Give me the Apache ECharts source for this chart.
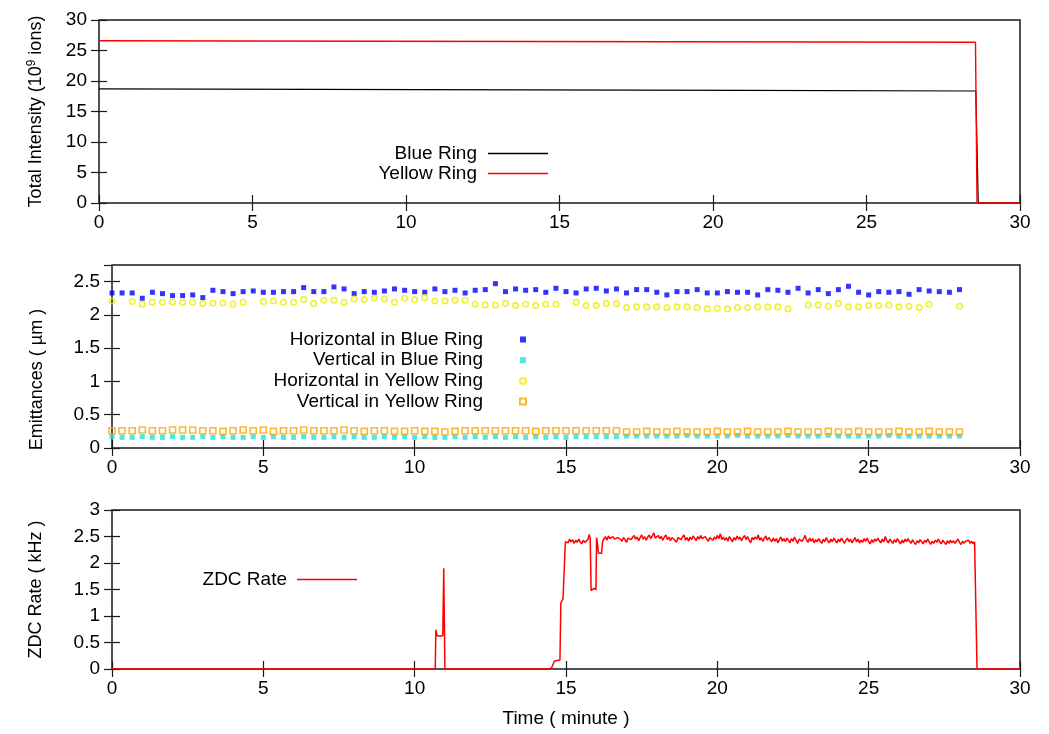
<!DOCTYPE html>
<html>
<head>
<meta charset="utf-8">
<script src="https://cdn.jsdelivr.net/npm/echarts@6/dist/echarts.min.js"></script>
<style>
  html, body { margin: 0; padding: 0; background: #fff; }
  #chart { width: 1049px; height: 734px; }
</style>
</head>
<body>
<div id="chart"></div>
<script>
// top panel: total intensity (10^9 ions)
const intensityTime = [0, 7, 14, 21, 28.56, 28.64, 30];
const blueIntensity = [18.7, 18.62, 18.53, 18.45, 18.36, 0, 0];
const yellowTime = [0, 14, 28.55, 28.6, 30];
const yellowIntensity = [26.6, 26.48, 26.35, 0, 0];

// middle panel: emittances, one reading every 20 s from 0 to 28 min
const emitStep = 1 / 3;
const blueH = [2.33, 2.33, 2.33, 2.25, 2.34, 2.32, 2.29, 2.29, 2.30, 2.26,
  2.37, 2.35, 2.32, 2.35, 2.36, 2.34, 2.34, 2.35, 2.35, 2.41,
  2.35, 2.35, 2.42, 2.39, 2.32, 2.35, 2.34, 2.36, 2.39, 2.37,
  2.35, 2.34, 2.39, 2.35, 2.37, 2.33, 2.37, 2.38, 2.47, 2.35,
  2.39, 2.37, 2.38, 2.34, 2.40, 2.35, 2.33, 2.39, 2.40, 2.36,
  2.39, 2.33, 2.38, 2.38, 2.34, 2.30, 2.35, 2.35, 2.38, 2.33,
  2.33, 2.35, 2.34, 2.34, 2.30, 2.38, 2.37, 2.34, 2.40, 2.33,
  2.38, 2.32, 2.38, 2.43, 2.34, 2.30, 2.35, 2.34, 2.35, 2.31,
  2.38, 2.36, 2.35, 2.34, 2.38];
const blueV = [0.17, 0.16, 0.16, 0.17, 0.16, 0.16, 0.17, 0.16, 0.16, 0.17,
  0.16, 0.17, 0.16, 0.16, 0.17, 0.16, 0.17, 0.16, 0.16, 0.17,
  0.16, 0.16, 0.17, 0.16, 0.17, 0.16, 0.16, 0.17, 0.16, 0.17,
  0.16, 0.17, 0.16, 0.16, 0.17, 0.16, 0.17, 0.16, 0.17, 0.16,
  0.17, 0.16, 0.17, 0.16, 0.17, 0.16, 0.17, 0.17, 0.17, 0.17,
  0.17, 0.18, 0.18, 0.18, 0.18, 0.18, 0.18, 0.19, 0.18, 0.18,
  0.18, 0.18, 0.19, 0.18, 0.18, 0.18, 0.18, 0.19, 0.18, 0.18,
  0.18, 0.19, 0.18, 0.18, 0.18, 0.18, 0.18, 0.19, 0.18, 0.18,
  0.18, 0.18, 0.18, 0.18, 0.18];
const yellowH = [2.21, null, 2.20, 2.16, 2.19, 2.19, 2.19, 2.19, 2.19, 2.17,
  2.18, 2.18, 2.16, 2.19, null, 2.20, 2.21, 2.19, 2.19, 2.23,
  2.17, 2.22, 2.22, 2.19, 2.24, 2.23, 2.25, 2.24, 2.19, 2.25,
  2.23, 2.26, 2.21, 2.21, 2.22, 2.22, 2.16, 2.15, 2.15, 2.17,
  2.14, 2.16, 2.14, 2.16, 2.16, null, 2.19, 2.14, 2.14, 2.17,
  2.17, 2.11, 2.12, 2.12, 2.12, 2.11, 2.12, 2.12, 2.11, 2.09,
  2.10, 2.09, 2.11, 2.11, 2.12, 2.12, 2.12, 2.09, null, 2.15,
  2.15, 2.13, 2.17, 2.12, 2.12, 2.14, 2.14, 2.15, 2.12, 2.13,
  2.11, 2.16, null, null, 2.13];
const yellowV = [0.26, 0.26, 0.26, 0.27, 0.26, 0.26, 0.27, 0.27, 0.27, 0.26,
  0.26, 0.25, 0.26, 0.27, 0.26, 0.27, 0.25, 0.26, 0.26, 0.27,
  0.26, 0.26, 0.26, 0.27, 0.26, 0.25, 0.26, 0.26, 0.25, 0.25,
  0.26, 0.25, 0.25, 0.24, 0.25, 0.26, 0.26, 0.26, 0.26, 0.26,
  0.26, 0.26, 0.25, 0.26, 0.26, 0.26, 0.26, 0.26, 0.26, 0.26,
  0.26, 0.24, 0.24, 0.25, 0.24, 0.24, 0.25, 0.24, 0.24, 0.24,
  0.25, 0.24, 0.24, 0.25, 0.24, 0.24, 0.24, 0.25, 0.24, 0.24,
  0.24, 0.25, 0.24, 0.24, 0.25, 0.24, 0.24, 0.24, 0.25, 0.24,
  0.24, 0.25, 0.24, 0.24, 0.24];

// bottom panel: ZDC rate (kHz)
const zdcEventTime = [0, 10.68, 10.70, 10.74, 10.78, 10.83, 10.88, 10.93, 10.95, 10.96,
  11.00, 14.45, 14.52, 14.58, 14.62, 14.80, 14.83, 14.90, 14.95, 14.98,
  15.02, 15.07, 15.12, 15.17, 15.22, 15.27, 15.32, 15.37, 15.42, 15.47,
  15.52, 15.57, 15.62, 15.67, 15.72, 15.77, 15.80, 15.83, 15.88, 15.92,
  15.96, 15.99, 16.01, 16.04, 16.07, 16.12, 16.17, 16.21];
const zdcEventRate = [0, 0, 0.74, 0.63, 0.60, 0.62, 0.64, 0.63, 0.64, 1.90,
  0, 0, 0.02, 0.05, 0.15, 0.17, 1.25, 1.32, 1.32, 2.40,
  2.42, 2.38, 2.45, 2.40, 2.44, 2.37, 2.43, 2.39, 2.45, 2.40,
  2.36, 2.43, 2.39, 2.36, 2.44, 2.54, 2.45, 1.48, 1.45, 1.52,
  1.55, 1.50, 2.48, 2.36, 2.19, 2.21, 2.18, 2.40];
// steady beam part, sampled every 0.05 min from 16.25 min
const zdcSampleStart = 16.25;
const zdcSampleStep = 0.05;
const zdcSamples = [
  2.45, 2.50, 2.43, 2.51, 2.46, 2.44, 2.50, 2.45, 2.42, 2.48,
  2.51, 2.45, 2.41, 2.48, 2.44, 2.39, 2.47, 2.50, 2.44, 2.48,
  2.52, 2.45, 2.49, 2.42, 2.48, 2.53, 2.45, 2.50, 2.43, 2.49,
  2.53, 2.46, 2.51, 2.57, 2.47, 2.44, 2.52, 2.46, 2.50, 2.43,
  2.49, 2.53, 2.44, 2.49, 2.42, 2.48, 2.51, 2.43, 2.39, 2.48,
  2.51, 2.44, 2.49, 2.53, 2.43, 2.48, 2.41, 2.49, 2.44, 2.51,
  2.47, 2.42, 2.50, 2.45, 2.52, 2.46, 2.43, 2.50, 2.45, 2.41,
  2.48, 2.51, 2.43, 2.49, 2.45, 2.52, 2.46, 2.55, 2.44, 2.49,
  2.43, 2.48, 2.41, 2.50, 2.45, 2.40, 2.48, 2.43, 2.51, 2.45,
  2.49, 2.42, 2.48, 2.52, 2.44, 2.50, 2.43, 2.38, 2.48, 2.44,
  2.49, 2.45, 2.53, 2.43, 2.48, 2.41, 2.46, 2.51, 2.43, 2.48,
  2.44, 2.40, 2.47, 2.41, 2.46, 2.38, 2.44, 2.49, 2.41, 2.46,
  2.40, 2.47, 2.43, 2.38, 2.46, 2.41, 2.49, 2.43, 2.37, 2.45,
  2.47, 2.41, 2.46, 2.52, 2.43, 2.39, 2.47, 2.41, 2.46, 2.38,
  2.44, 2.40, 2.46, 2.41, 2.37, 2.45, 2.40, 2.48, 2.42, 2.38,
  2.45, 2.40, 2.47, 2.42, 2.38, 2.45, 2.40, 2.47, 2.42, 2.37,
  2.43, 2.47, 2.40, 2.45, 2.38, 2.43, 2.48, 2.40, 2.45, 2.38,
  2.43, 2.39, 2.46, 2.41, 2.47, 2.40, 2.36, 2.44, 2.39, 2.45,
  2.41, 2.47, 2.42, 2.38, 2.45, 2.40, 2.50, 2.42, 2.38, 2.45,
  2.41, 2.37, 2.44, 2.39, 2.46, 2.41, 2.36, 2.43, 2.38, 2.45,
  2.40, 2.46, 2.41, 2.37, 2.44, 2.39, 2.35, 2.42, 2.38, 2.44,
  2.40, 2.36, 2.43, 2.39, 2.45, 2.40, 2.35, 2.41, 2.37, 2.43,
  2.39, 2.45, 2.40, 2.36, 2.43, 2.39, 2.35, 2.42, 2.37, 2.43,
  2.38, 2.42, 2.37, 2.41, 2.45, 2.39, 2.35, 2.41, 2.37, 2.41,
  2.39, 2.43, 2.37, 2.41, 2.36, 2.40];
const zdcTailTime = [28.55, 28.58, 30];
const zdcTailRate = [2.38, 0, 0];

const font = '"Liberation Sans", Arial, Helvetica, sans-serif';
const ink = '#1a1a1a';

const pairs = (xs, ys) => xs.map((x, i) => [x, ys[i]]);
const emitPairs = (ys) => ys.map((v, i) => [+(i * emitStep).toFixed(3), v]).filter(p => p[1] !== null);

const zdcData = pairs(zdcEventTime, zdcEventRate)
  .concat(zdcSamples.map((v, i) => [+(zdcSampleStart + i * zdcSampleStep).toFixed(3), v]))
  .concat(pairs(zdcTailTime, zdcTailRate));

const tick = { inside: true, length: 8, lineStyle: { color: ink, width: 1.2 } };
const labelStyle = { color: '#000', fontSize: 19, fontFamily: font };

function xAxesFor(gridIndex, name) {
  return [
    {
      type: 'value', gridIndex, min: 0, max: 30, interval: 5, position: 'bottom',
      axisLine: { show: false }, axisTick: tick, splitLine: { show: false },
      axisLabel: Object.assign({ margin: 10 }, labelStyle),
      name: name || '', nameLocation: 'middle', nameGap: 40,
      nameTextStyle: { color: '#000', fontSize: 19, fontFamily: font }
    },
    {
      type: 'value', gridIndex, min: 0, max: 30, interval: 5, position: 'top',
      axisLine: { show: false }, axisTick: tick, splitLine: { show: false },
      axisLabel: { show: false }
    }
  ];
}

function yAxesFor(gridIndex, max, interval, name, nameGap, nameStyle) {
  return [
    {
      type: 'value', gridIndex, min: 0, max, interval, position: 'left',
      axisLine: { show: false }, axisTick: tick, splitLine: { show: false },
      axisLabel: Object.assign({ margin: 12, showMaxLabel: max % interval === 0 }, labelStyle),
      name, nameLocation: 'middle', nameRotate: 90, nameGap,
      nameTextStyle: nameStyle
    },
    {
      type: 'value', gridIndex, min: 0, max, interval, position: 'right',
      axisLine: { show: false }, axisTick: tick, splitLine: { show: false },
      axisLabel: { show: false }
    }
  ];
}

function legendText(width, padRight, lineHeight, size) {
  return {
    rich: {
      t: {
        width, align: 'right', padding: [0, padRight, 0, 0],
        fontSize: size, fontFamily: font, color: '#000', lineHeight
      }
    }
  };
}

const gridBox = { show: true, borderColor: ink, borderWidth: 1.5, backgroundColor: 'transparent' };

const option = {
  animation: false,
  backgroundColor: '#fff',
  grid: [
    Object.assign({ left: 99, right: 29, top: 20, height: 183 }, gridBox),
    Object.assign({ left: 112, right: 29, top: 265, height: 183 }, gridBox),
    Object.assign({ left: 112, right: 29, top: 510, height: 159 }, gridBox)
  ],
  xAxis: [].concat(xAxesFor(0), xAxesFor(1), xAxesFor(2, 'Time ( minute )')),
  yAxis: [].concat(
    yAxesFor(0, 30, 5, '{a|Total Intensity (10}{s|9}{a| ions)}', 53, {
      rich: {
        a: { fontSize: 18, fontFamily: font, color: '#000', lineHeight: 20 },
        s: { fontSize: 12, fontFamily: font, color: '#000', lineHeight: 20, verticalAlign: 'top' }
      }
    }),
    yAxesFor(1, 2.75, 0.5, 'Emittances ( µm )', 66, {
      fontSize: 18, fontFamily: font, color: '#000', padding: [0, 46, 0, 0]
    }),
    yAxesFor(2, 3, 0.5, 'ZDC Rate ( kHz )', 67, {
      fontSize: 18, fontFamily: font, color: '#000'
    })
  ),
  legend: [
    {
      data: ['Blue Ring', 'Yellow Ring'], orient: 'vertical', left: 322, top: 139,
      align: 'right', icon: 'rect', itemWidth: 60, itemHeight: 1.5, itemGap: 1,
      formatter: n => '{t|' + n + '}', textStyle: legendText(150, 6, 20, 19)
    },
    {
      data: ['Horizontal in Blue Ring', 'Vertical in Blue Ring', 'Horizontal in Yellow Ring', 'Vertical in Yellow Ring'],
      orient: 'vertical', left: 238, top: 325, align: 'right', itemWidth: 6, itemHeight: 6, itemGap: 1.7,
      formatter: n => '{t|' + n + '}', textStyle: legendText(240, 32, 21, 19)
    },
    {
      data: ['ZDC Rate'], orient: 'vertical', left: 162, top: 565,
      align: 'right', icon: 'rect', itemWidth: 60, itemHeight: 1.5, itemGap: 0,
      formatter: n => '{t|' + n + '}', textStyle: legendText(120, 5, 20, 19)
    }
  ],
  series: [
    {
      name: 'Blue Ring', type: 'line', xAxisIndex: 0, yAxisIndex: 0, symbol: 'none',
      lineStyle: { color: '#000', width: 1.2 }, itemStyle: { color: '#000' },
      data: pairs(intensityTime, blueIntensity)
    },
    {
      name: 'Yellow Ring', type: 'line', xAxisIndex: 0, yAxisIndex: 0, symbol: 'none',
      lineStyle: { color: '#ff0000', width: 1.4 }, itemStyle: { color: '#ff0000' },
      data: pairs(yellowTime, yellowIntensity)
    },
    {
      name: 'Horizontal in Blue Ring', type: 'scatter', xAxisIndex: 2, yAxisIndex: 2,
      symbol: 'rect', symbolSize: 5, itemStyle: { color: '#0000ff' },
      data: emitPairs(blueH)
    },
    {
      name: 'Vertical in Blue Ring', type: 'scatter', xAxisIndex: 2, yAxisIndex: 2,
      symbol: 'rect', symbolSize: 5, itemStyle: { color: '#19e3e3' },
      data: emitPairs(blueV)
    },
    {
      name: 'Horizontal in Yellow Ring', type: 'scatter', xAxisIndex: 2, yAxisIndex: 2,
      symbol: 'circle', symbolSize: 5.5,
      itemStyle: { color: 'rgba(255,255,255,0)', borderColor: '#eeee00', borderWidth: 1.6 },
      data: emitPairs(yellowH)
    },
    {
      name: 'Vertical in Yellow Ring', type: 'scatter', xAxisIndex: 2, yAxisIndex: 2,
      symbol: 'rect', symbolSize: 6,
      itemStyle: { color: 'rgba(255,255,255,0)', borderColor: '#ffa500', borderWidth: 1.6 },
      data: emitPairs(yellowV)
    },
    {
      name: 'ZDC Rate', type: 'line', xAxisIndex: 4, yAxisIndex: 4, symbol: 'none',
      lineStyle: { color: '#ff0000', width: 1.5 }, itemStyle: { color: '#ff0000' },
      data: zdcData
    }
  ]
};

const chart = echarts.init(document.getElementById('chart'));
chart.setOption(option);
window.addEventListener('resize', chart.resize);
</script>
</body>
</html>
